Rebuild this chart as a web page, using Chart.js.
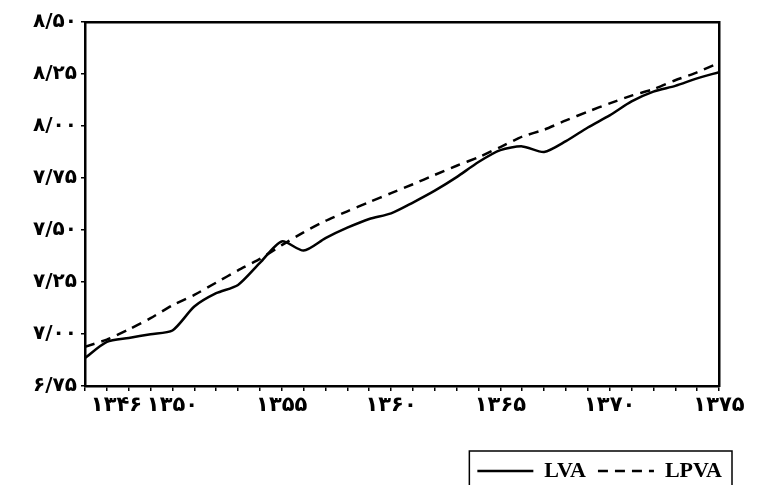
<!DOCTYPE html>
<html lang="fa">
<head>
  <meta charset="UTF-8" />
  <title>LVA / LPVA</title>
  <script src="https://cdn.jsdelivr.net/npm/chart.js"></script>
  <style>
    body {
      margin: 0;
      padding: 0;
      background: #fff;
    }
    .wrap {
      width: 758px;
      height: 485px;
      position: relative;
    }
  </style>
</head>
<body>
  <div class="wrap">
    <canvas id="chart"></canvas>
  </div>

  <script>
    // years (solar hijri) and the two log series
    const years = [1346, 1347, 1348, 1349, 1350, 1351, 1352, 1353, 1354, 1355,
                   1356, 1357, 1358, 1359, 1360, 1361, 1362, 1363, 1364, 1365,
                   1366, 1367, 1368, 1369, 1370, 1371, 1372, 1373, 1374, 1375];
    const lva  = [6.885, 6.962, 6.981, 6.999, 7.017, 7.132, 7.196, 7.236, 7.342, 7.445,
                  7.401, 7.461, 7.511, 7.553, 7.580, 7.632, 7.689, 7.754, 7.827, 7.884,
                  7.902, 7.875, 7.927, 7.993, 8.051, 8.118, 8.165, 8.193, 8.229, 8.259];
    const lpva = [6.939, 6.973, 7.022, 7.076, 7.138, 7.188, 7.247, 7.306, 7.361, 7.427,
                  7.489, 7.544, 7.590, 7.634, 7.677, 7.720, 7.765, 7.809, 7.850, 7.899,
                  7.949, 7.982, 8.027, 8.069, 8.109, 8.146, 8.177, 8.220, 8.258, 8.304];

    const xTickYears  = [1346, 1350, 1355, 1360, 1365, 1370, 1375];
    const xTickLabels = ['۱۳۴۶', '۱۳۵۰', '۱۳۵۵', '۱۳۶۰', '۱۳۶۵', '۱۳۷۰', '۱۳۷۵'];
    const yTickValues = [6.75, 7.00, 7.25, 7.50, 7.75, 8.00, 8.25, 8.50];
    const yTickLabels = ['۶/۷۵', '۷/۰۰', '۷/۲۵', '۷/۵۰', '۷/۷۵', '۸/۰۰', '۸/۲۵', '۸/۵۰'];

    const seriesNames = ['LVA', 'LPVA'];

    const tickFont = { family: "'DejaVu Sans', sans-serif", weight: 'bold' };

    // draws a frame round the legend items, like the boxed key in the scan
    const legendFrame = {
      id: 'legendFrame',
      afterDraw(chart) {
        const boxes = chart.legend && chart.legend.legendHitBoxes;
        if (!boxes || !boxes.length) return;
        let left = Infinity, right = -Infinity, top = Infinity;
        boxes.forEach(b => {
          left = Math.min(left, b.left);
          right = Math.max(right, b.left + b.width);
          top = Math.min(top, b.top);
        });
        const ctx = chart.ctx;
        ctx.save();
        ctx.strokeStyle = '#000';
        ctx.lineWidth = 1.5;
        ctx.strokeRect(left - 8, top - 9, right - left + 18, chart.height - top + 20);
        ctx.restore();
      }
    };

    const ctx = document.getElementById('chart').getContext('2d');
    new Chart(ctx, {
      type: 'line',
      data: {
        datasets: [
          {
            label: seriesNames[0],
            data: years.map((yr, i) => ({ x: yr, y: lva[i] })),
            borderColor: '#000',
            backgroundColor: '#000',
            borderWidth: 2.5,
            pointRadius: 0,
            tension: 0.25,
            fill: false
          },
          {
            label: seriesNames[1],
            data: years.map((yr, i) => ({ x: yr, y: lpva[i] })),
            borderColor: '#000',
            backgroundColor: '#000',
            borderWidth: 2.5,
            borderDash: [10, 7],
            pointRadius: 0,
            tension: 0.2,
            fill: false
          }
        ]
      },
      options: {
        responsive: true,
        maintainAspectRatio: false,
        animation: false,
        layout: {
          padding: { left: 10, right: 24, top: 22, bottom: -7 }
        },
        plugins: {
          legend: {
            display: true,
            position: 'bottom',
            align: 'end',
            labels: {
              color: '#000',
              font: { family: "'Liberation Serif', serif", weight: 'bold', size: 22 },
              usePointStyle: true,
              pointStyle: 'line',
              pointStyleWidth: 56,
              padding: 12,
              generateLabels(chart) {
                const items = Chart.defaults.plugins.legend.labels.generateLabels(chart);
                items.forEach((it, i) => {
                  it.lineDash = chart.data.datasets[i].borderDash || [];
                });
                return items;
              }
            }
          },
          tooltip: { enabled: false }
        },
        scales: {
          x: {
            type: 'linear',
            min: 1346,
            max: 1375,
            afterFit(s) { s.height = 62; },
            border: { display: true, color: '#000', width: 2.5 },
            grid: { display: true, drawOnChartArea: false, color: '#000', tickLength: 5, lineWidth: 1.5 },
            ticks: {
              stepSize: 1,
              autoSkip: false,
              maxRotation: 0,
              color: '#000',
              font: Object.assign({ size: 21 }, tickFont),
              padding: 2,
              callback(v) {
                const i = xTickYears.indexOf(Math.round(v));
                if (i < 0) return '';
                // first year label sits to the right of the corner, as in the scan
                return i === 0 ? '\u2003\u2003\u2003' + xTickLabels[i] : xTickLabels[i];
              }
            }
          },
          x2: {
            type: 'linear',
            position: 'top',
            min: 1346,
            max: 1375,
            afterFit(s) { s.height = 0; },
            border: { display: true, color: '#000', width: 2.5 },
            grid: { display: false },
            ticks: { display: false }
          },
          y: {
            min: 6.75,
            max: 8.5,
            afterFit(s) { s.width = 75; },
            border: { display: true, color: '#000', width: 2.5 },
            grid: { display: true, drawOnChartArea: false, color: '#000', tickLength: 4, lineWidth: 1.5 },
            ticks: {
              stepSize: 0.25,
              color: '#000',
              font: Object.assign({ size: 20 }, tickFont),
              padding: 4,
              callback(v) {
                const i = yTickValues.findIndex(t => Math.abs(t - v) < 1e-6);
                return i >= 0 ? yTickLabels[i] : '';
              }
            }
          },
          y2: {
            position: 'right',
            min: 6.75,
            max: 8.5,
            afterFit(s) { s.width = 15; },
            border: { display: true, color: '#000', width: 2.5 },
            grid: { display: false },
            ticks: { display: false }
          }
        }
      },
      plugins: [legendFrame]
    });
  </script>
</body>
</html>
